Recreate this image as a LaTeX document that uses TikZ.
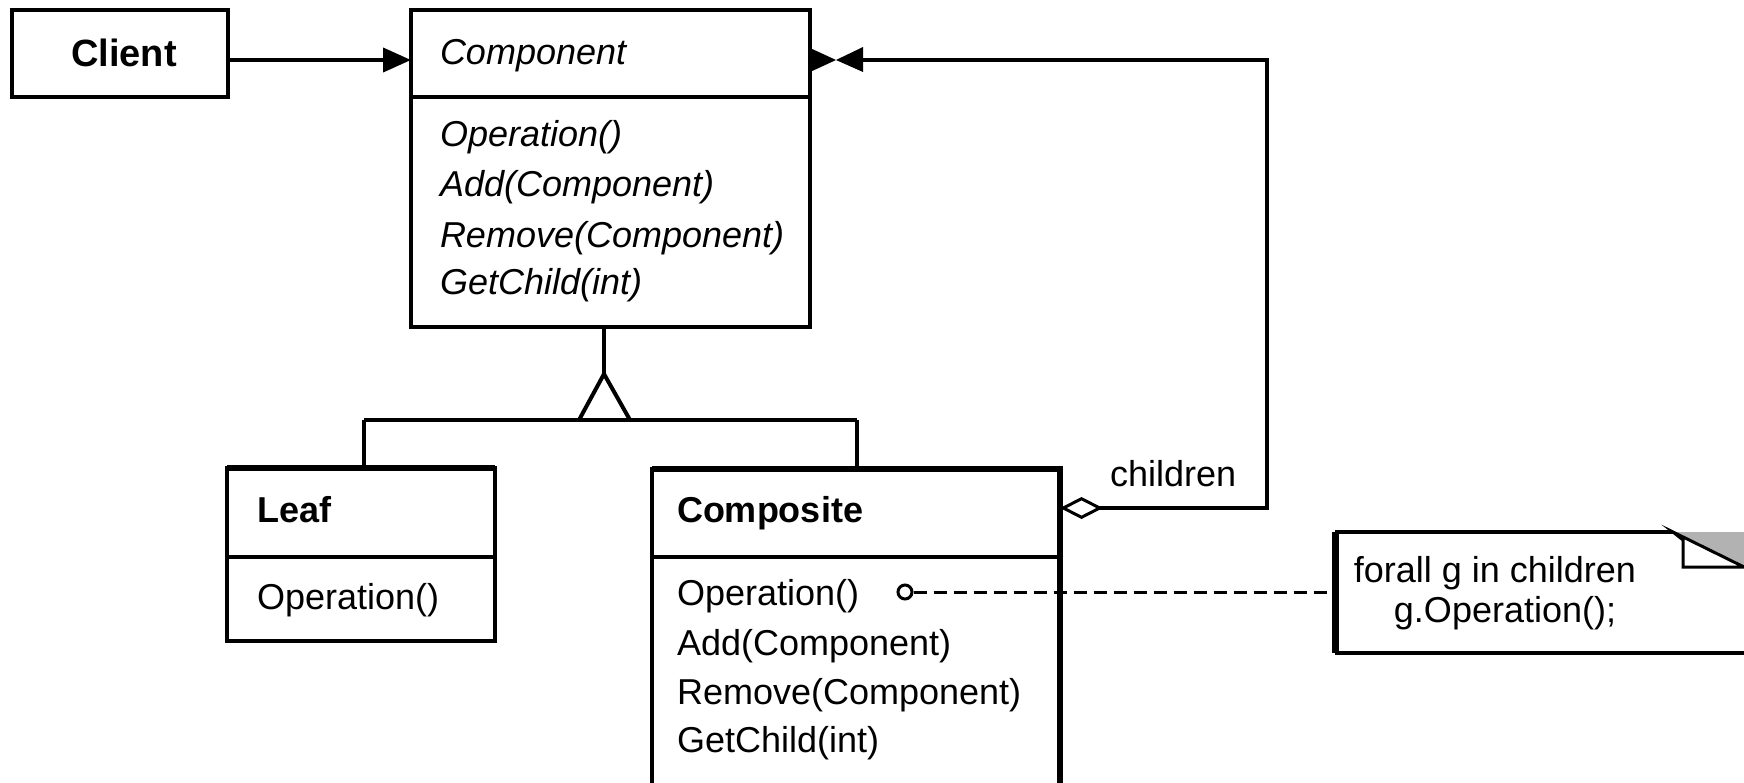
\documentclass[tikz,border=0pt]{standalone}
\usepackage{fontspec}
\setmainfont{Liberation Sans}
\usetikzlibrary{arrows.meta}
\begin{document}
\begin{tikzpicture}[
  x=0.5pt, y=-0.5pt,
  ln/.style={line width=2pt},
  box/.style={draw, line width=2pt, inner sep=0pt, outer sep=0pt, anchor=north west},
  lbl/.style={inner sep=0pt, outer sep=0pt, anchor=base west, font=\fontsize{18}{20}\selectfont},
]
\clip (0,0) rectangle (1744,782);
\fill[white] (0,0) rectangle (1744,782);

% Client
\node[box, minimum width=108pt, minimum height=43.5pt] (client) at (12,10) {};
\node[lbl, anchor=base, font=\fontsize{19}{20}\selectfont\bfseries] (clientname) at (124,66) {Client};

% Component
\node[box, minimum width=199.5pt, minimum height=158.5pt] (comp) at (411,10) {};
\coordinate (compdivL) at (411,97);
\coordinate (compdivR) at (810,97);
\draw[ln] (compdivL) -- (compdivR);
\node[lbl, font=\fontsize{18}{20}\selectfont\itshape] (compname) at (440,64) {Component};
\node[lbl, font=\fontsize{18}{20}\selectfont\itshape] (cop1) at (440,146) {Operation()};
\node[lbl, font=\fontsize{18}{20}\selectfont\itshape] (cop2) at (440,196) {Add(Component)};
\node[lbl, font=\fontsize{18}{20}\selectfont\itshape] (cop3) at (440,247) {Remove(Component)};
\node[lbl, font=\fontsize{18}{20}\selectfont\itshape] (cop4) at (440,294) {GetChild(int)};

% Client -> Component
\coordinate (cl) at (228,60);
\draw[ln, -{Triangle[length=14pt,width=12pt]}] (cl) -- (comp.west |- cl);

% Leaf
\node[box, minimum width=134pt, minimum height=86.5pt] (leaf) at (227,468) {};
\draw[line width=3pt] (leaf.north west) -- (leaf.north east);
\coordinate (leafdivL) at (227,557);
\coordinate (leafdivR) at (495,557);
\draw[ln] (leafdivL) -- (leafdivR);
\node[lbl, font=\fontsize{18}{20}\selectfont\bfseries] (leafname) at (257,522) {Leaf};
\node[lbl] (lop1) at (257,609) {Operation()};

% Composite
\node[box, minimum width=204pt, minimum height=200pt] (composite) at (652,469) {};
\draw[line width=3pt] (composite.north west) -- (composite.north east) -- (composite.south east);
\coordinate (cdivL) at (652,557);
\coordinate (cdivR) at (1060,557);
\draw[ln] (cdivL) -- (cdivR);
\node[lbl, font=\fontsize{18}{20}\selectfont\bfseries] (compositename) at (677,522) {Composite};
\node[lbl] (op1) at (677,605) {Operation()};
\node[lbl] (op2) at (677,655) {Add(Component)};
\node[lbl] (op3) at (677,704) {Remove(Component)};
\node[lbl] (op4) at (677,752) {GetChild(int)};

% Generalization
\coordinate (gtop) at (604,327);
\coordinate (apex) at (604,374);
\coordinate (bl) at (579,420);
\coordinate (br) at (630,420);
\coordinate (hl) at (364,420);
\coordinate (hr) at (857,420);
\draw[ln] (gtop) -- (apex);
\draw[ln, line join=miter] (bl) -- (apex) -- (br);
\draw[ln] (hl) -- (hr);
\draw[ln] (hl) -- (leaf.north -| hl);
\draw[ln] (hr) -- (composite.north -| hr);

% children aggregation
\coordinate (cA) at (1267,60);
\coordinate (cB) at (1267,508);
\coordinate (cE) at (863,60);
\draw[ln, {Diamond[open,fill=white,length=21.5pt,width=11pt,line width=1.5pt]}-]
  (composite.east |- cB) -- (cB) -- (cA) -- (cE);
\fill (comp.east |- cA) ++(0,-12) -- ++(0,24) -- (836,60) -- cycle;
\fill (836,60) -- (863,47) -- (863,72) -- cycle;
\node[lbl] (children) at (1110,486) {children};

% Note
\coordinate (nTL) at (1335,532);
\coordinate (nK) at (1673,532);
\coordinate (nR) at (1744,567);
\coordinate (nBR) at (1744,653);
\coordinate (nBL) at (1335,653);
\fill[gray!60] (nK) -- (1744,532) -- (nR) -- cycle;
\draw[line width=2pt] (nK) -- (nTL);
\draw[line width=3.5pt] (nTL) -- (nBL);
\draw[line width=2pt] (nBL) -- (nBR);
\draw[line width=1.5pt, fill=white] (nK) -- (1683,540) -- (1683,567) -- (nR) -- cycle;
\node[lbl, anchor=base] (note1) at (1495,582) {forall g in children};
\node[lbl, anchor=base] (note2) at (1505,622) {g.Operation();};

% Dashed link
\node[circle, draw, line width=1.5pt, minimum size=7pt, inner sep=0pt, fill=white] (dot) at (905,592) {};
\draw[line width=1.5pt, dash pattern=on 6.5pt off 3.5pt] (dot.east) -- (nTL |- dot);
\end{tikzpicture}
\end{document}
